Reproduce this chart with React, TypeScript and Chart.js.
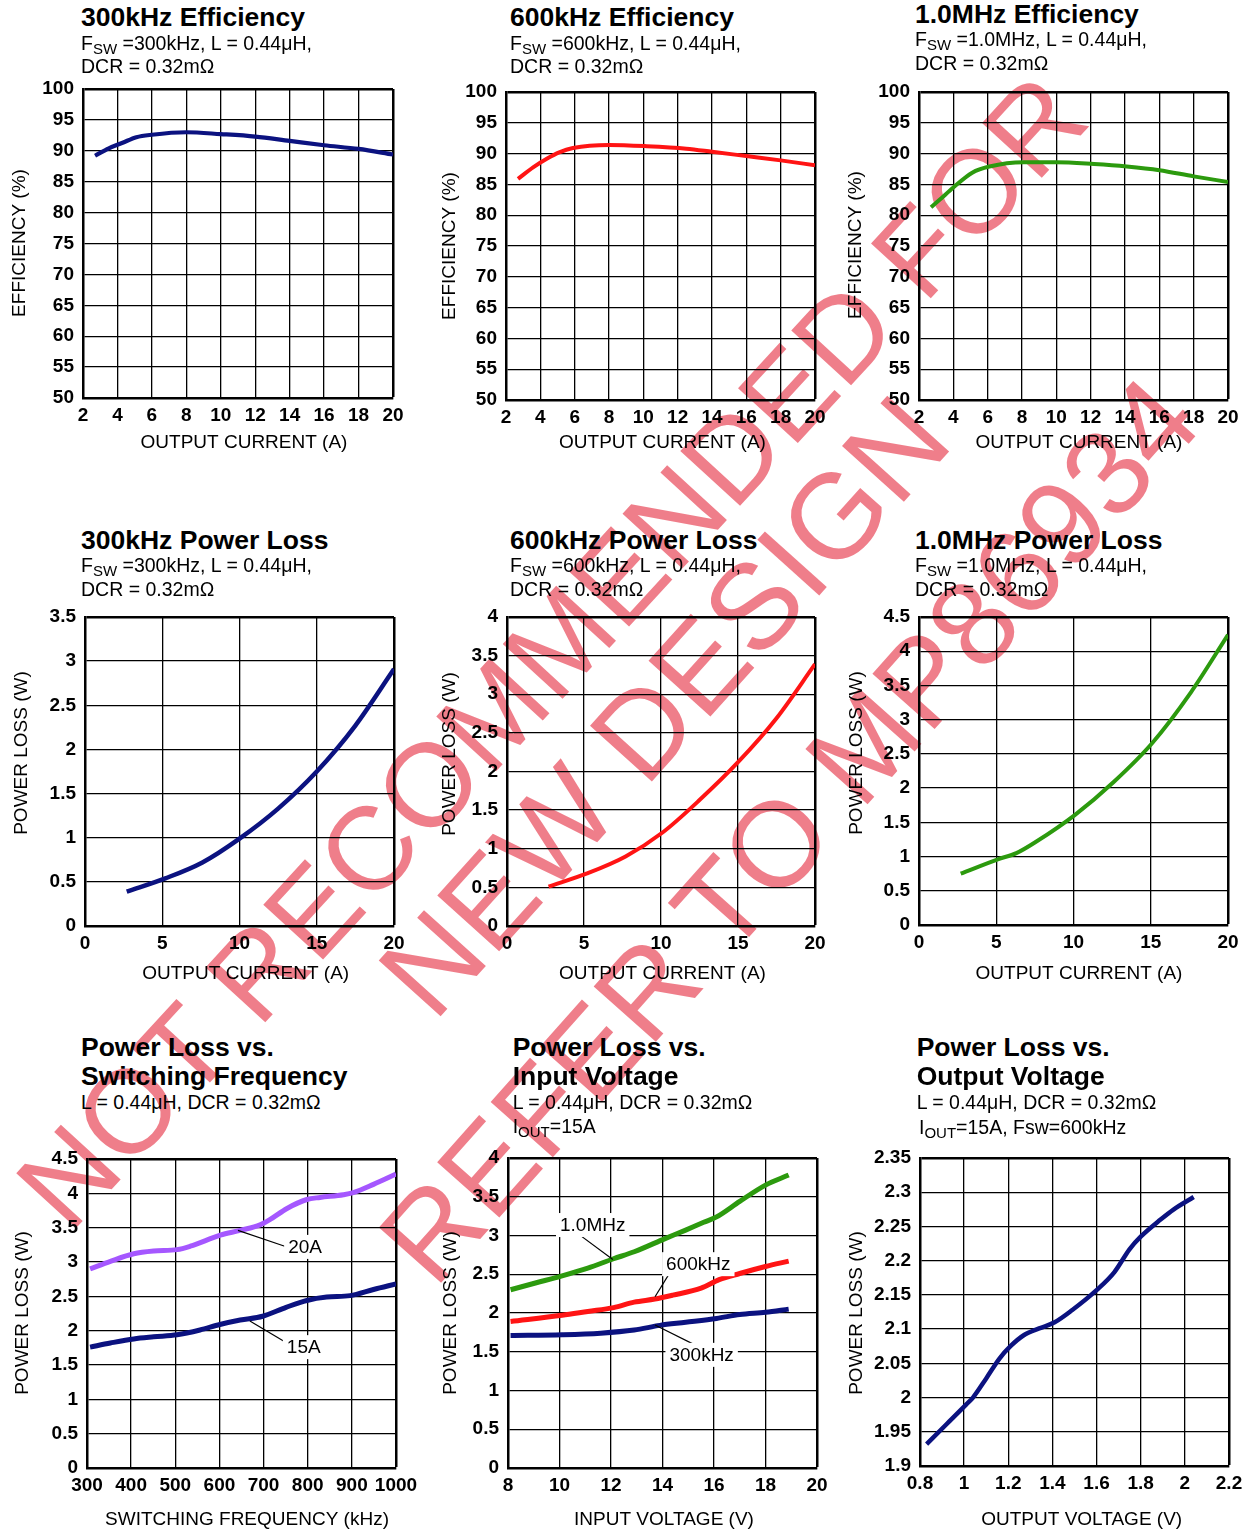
import { useEffect, useRef } from "react";
import type { ReactNode } from "react";
import { Chart, registerables } from "chart.js";

Chart.register(...registerables);

const FONT = "'Liberation Sans', Arial, Helvetica, sans-serif";
Chart.defaults.font.family = FONT;
Chart.defaults.color = "#000";

const NAVY = "#0b1280";
const RED = "#ff1414";
const GREEN = "#2c9a0e";
const PURPLE = "#a557ff";

// ---- data ----
const eff300Current = [2.7, 3.5, 4.3, 5.1, 6, 8, 10, 12, 14, 16, 18, 20];
const eff300 = [89.2, 90.4, 91.3, 92.2, 92.6, 93.0, 92.7, 92.3, 91.6, 90.9, 90.3, 89.4];

const eff600Current = [2.7, 3.6, 4.4, 5.1, 5.9, 8, 10.2, 12.5, 14, 16, 18, 20];
const eff600 = [85.9, 87.8, 89.2, 90.2, 90.9, 91.4, 91.2, 90.8, 90.3, 89.6, 88.9, 88.1];

const eff1mCurrent = [2.7, 3.2, 4, 5.1, 6.1, 8.1, 10, 12.2, 14.1, 16, 18, 20];
const eff1m = [81.3, 82.5, 84.5, 86.9, 87.9, 88.6, 88.6, 88.3, 87.9, 87.3, 86.3, 85.4];

const loss300Current = [2.7, 5.2, 7.6, 10, 12.5, 15, 17.5, 20];
const loss300 = [0.39, 0.54, 0.72, 0.99, 1.33, 1.75, 2.27, 2.91];

const loss600Current = [2.7, 5.2, 7.7, 10.1, 12.5, 15, 17.5, 20];
const loss600 = [0.51, 0.68, 0.9, 1.21, 1.63, 2.12, 2.69, 3.39];

const loss1mCurrent = [2.7, 5.1, 6.3, 7.6, 10.1, 12.6, 15.1, 17.6, 20];
const loss1m = [0.75, 0.96, 1.05, 1.22, 1.61, 2.09, 2.66, 3.4, 4.24];

const fswKHz20A = [307, 353, 406, 451, 504, 534, 602, 647, 692, 715, 753, 798, 828, 881, 903, 949, 1000];
const loss20A = [2.9, 3.01, 3.12, 3.16, 3.18, 3.23, 3.39, 3.46, 3.54, 3.62, 3.78, 3.91, 3.94, 3.98, 4.01, 4.13, 4.28];
const fswKHz15A = [307, 353, 406, 451, 504, 556, 601, 647, 698, 751, 798, 843, 896, 949, 1000];
const loss15A = [1.76, 1.82, 1.88, 1.91, 1.94, 2.01, 2.09, 2.155, 2.21, 2.34, 2.44, 2.49, 2.51, 2.6, 2.68];

const vin1m = [8.1, 9.1, 10.1, 11.1, 12.1, 12.9, 14.1, 14.9, 15.6, 16.1, 17, 18, 18.9];
const lossVin1m = [2.3, 2.39, 2.48, 2.58, 2.7, 2.79, 2.96, 3.07, 3.17, 3.24, 3.44, 3.65, 3.78];
const vin600 = [8.1, 10.1, 11.1, 12.1, 12.9, 13.7, 14.4, 15.5, 16.2, 17, 18, 18.9];
const lossVin600 = [1.89, 1.97, 2.02, 2.07, 2.14, 2.18, 2.23, 2.32, 2.43, 2.51, 2.6, 2.67];
const vin300 = [8.1, 10.1, 11.6, 12.9, 13.9, 14.9, 16.1, 17, 18, 18.9];
const lossVin300 = [1.71, 1.72, 1.74, 1.78, 1.84, 1.88, 1.93, 1.98, 2.01, 2.05];

const vout = [0.83, 0.92, 1.01, 1.04, 1.1, 1.16, 1.21, 1.27, 1.34, 1.41, 1.49, 1.6, 1.68, 1.75, 1.8, 1.89, 1.95, 2.04];
const lossVout = [1.932, 1.961, 1.99, 2.0, 2.028, 2.057, 2.075, 2.091, 2.101, 2.11, 2.128, 2.157, 2.183, 2.217, 2.235, 2.26, 2.275, 2.293];

// axis ranges [min, max, step]
const currentAxis: [number, number, number] = [2, 20, 2];
const currentAxis0: [number, number, number] = [0, 20, 5];
const effAxis: [number, number, number] = [50, 100, 5];

// canvas margins around the plot box
const LEFT = 80;
const TOP = 22;
const RIGHT = 34;
const BOTTOM = 70;
const GRID_W = 1.3;
const FRAME_W = 2.5;

type Series = { x: number[]; y: number[]; color: string; width: number };
type Note = { text: string; at: [number, number]; from: [number, number]; to: [number, number] };
type Line = { left: number; base: number; size: number; bold?: boolean; content: ReactNode };
type PanelCfg = {
  plot: [number, number, number, number];
  xRange: [number, number, number];
  yRange: [number, number, number];
  series: Series[];
  xTitle: string;
  yTitle: string;
  xTitleAt: [number, number];
  yTitleAt: [number, number];
  notes?: Note[];
  text: Line[];
};

const Sub = ({ children }: { children: ReactNode }) => (
  <span style={{ fontSize: 15, verticalAlign: -4 }}>{children}</span>
);

const fmt = (v: number | string) => String(Math.round(Number(v) * 1000) / 1000);

const fswLine = (f: string) => (
  <>
    F<Sub>SW</Sub> ={f}, L = 0.44μH,
  </>
);

const headText = (left: number, b: number, title: string, f: string): Line[] => [
  { left, base: b, size: 26.5, bold: true, content: title },
  { left, base: b + 23.5, size: 19.5, content: fswLine(f) },
  { left, base: b + 47, size: 19.5, content: "DCR = 0.32mΩ" },
];

const panels: PanelCfg[] = [
  {
    plot: [83, 89, 393, 398],
    xRange: currentAxis,
    yRange: effAxis,
    series: [{ x: eff300Current, y: eff300, color: NAVY, width: 4.2 }],
    xTitle: "OUTPUT CURRENT (A)",
    yTitle: "EFFICIENCY (%)",
    xTitleAt: [244, 443],
    yTitleAt: [19.5, 243],
    text: headText(81, 26.7, "300kHz Efficiency", "300kHz"),
  },
  {
    plot: [506, 92, 815, 400],
    xRange: currentAxis,
    yRange: effAxis,
    series: [{ x: eff600Current, y: eff600, color: RED, width: 4 }],
    xTitle: "OUTPUT CURRENT (A)",
    yTitle: "EFFICIENCY (%)",
    xTitleAt: [662.5, 443],
    yTitleAt: [449.5, 246],
    text: headText(510, 26.7, "600kHz Efficiency", "600kHz"),
  },
  {
    plot: [919, 92, 1228, 400],
    xRange: currentAxis,
    yRange: effAxis,
    series: [{ x: eff1mCurrent, y: eff1m, color: GREEN, width: 4 }],
    xTitle: "OUTPUT CURRENT (A)",
    yTitle: "EFFICIENCY (%)",
    xTitleAt: [1079, 443],
    yTitleAt: [856, 245],
    text: headText(915, 23.5, "1.0MHz Efficiency", "1.0MHz"),
  },
  {
    plot: [85, 617, 394, 926],
    xRange: currentAxis0,
    yRange: [0, 3.5, 0.5],
    series: [{ x: loss300Current, y: loss300, color: NAVY, width: 4.5 }],
    xTitle: "OUTPUT CURRENT (A)",
    yTitle: "POWER LOSS (W)",
    xTitleAt: [245.7, 974],
    yTitleAt: [21.5, 753],
    text: headText(81, 549.3, "300kHz Power Loss", "300kHz"),
  },
  {
    plot: [507, 617, 815, 926],
    xRange: currentAxis0,
    yRange: [0, 4, 0.5],
    series: [{ x: loss600Current, y: loss600, color: RED, width: 4 }],
    xTitle: "OUTPUT CURRENT (A)",
    yTitle: "POWER LOSS (W)",
    xTitleAt: [662.5, 974],
    yTitleAt: [450, 754],
    text: headText(510, 549.3, "600kHz Power Loss", "600kHz"),
  },
  {
    plot: [919, 617, 1228, 925],
    xRange: currentAxis0,
    yRange: [0, 4.5, 0.5],
    series: [{ x: loss1mCurrent, y: loss1m, color: GREEN, width: 4 }],
    xTitle: "OUTPUT CURRENT (A)",
    yTitle: "POWER LOSS (W)",
    xTitleAt: [1079, 974],
    yTitleAt: [856.7, 753],
    text: headText(915, 549.3, "1.0MHz Power Loss", "1.0MHz"),
  },
  {
    plot: [87, 1159, 396, 1468],
    xRange: [300, 1000, 100],
    yRange: [0, 4.5, 0.5],
    series: [
      { x: fswKHz20A, y: loss20A, color: PURPLE, width: 5 },
      { x: fswKHz15A, y: loss15A, color: NAVY, width: 5 },
    ],
    xTitle: "SWITCHING FREQUENCY (kHz)",
    yTitle: "POWER LOSS (W)",
    xTitleAt: [247, 1520],
    yTitleAt: [22.5, 1313],
    notes: [
      { text: "20A", at: [794, 3.22], from: [642, 3.46], to: [748, 3.23] },
      { text: "15A", at: [791, 1.76], from: [669, 2.14], to: [748, 1.84] },
    ],
    text: [
      { left: 81, base: 1056, size: 26.5, bold: true, content: "Power Loss vs." },
      { left: 81, base: 1085, size: 26.5, bold: true, content: "Switching Frequency" },
      { left: 81, base: 1109.3, size: 19.5, content: "L = 0.44μH, DCR = 0.32mΩ" },
    ],
  },
  {
    plot: [508, 1158, 817, 1468],
    xRange: [8, 20, 2],
    yRange: [0, 4, 0.5],
    series: [
      { x: vin1m, y: lossVin1m, color: GREEN, width: 5 },
      { x: vin600, y: lossVin600, color: RED, width: 5 },
      { x: vin300, y: lossVin300, color: NAVY, width: 5 },
    ],
    xTitle: "INPUT VOLTAGE (V)",
    yTitle: "POWER LOSS (W)",
    xTitleAt: [664, 1520],
    yTitleAt: [451, 1313],
    notes: [
      { text: "1.0MHz", at: [11.29, 3.135], from: [10.61, 3.05], to: [12.07, 2.69] },
      { text: "600kHz", at: [15.39, 2.63], from: [14.36, 2.56], to: [13.71, 2.21] },
      { text: "300kHz", at: [15.52, 1.46], from: [15.43, 1.56], to: [13.71, 1.845] },
    ],
    text: [
      { left: 512.7, base: 1056, size: 26.5, bold: true, content: "Power Loss vs." },
      { left: 512.7, base: 1085, size: 26.5, bold: true, content: "Input Voltage" },
      { left: 512.7, base: 1109.3, size: 19.5, content: "L = 0.44μH, DCR = 0.32mΩ" },
      {
        left: 512.7,
        base: 1134,
        size: 19.5,
        content: (
          <>
            I<Sub>OUT</Sub>=15A
          </>
        ),
      },
    ],
  },
  {
    plot: [920, 1158, 1229, 1466],
    xRange: [0.8, 2.2, 0.2],
    yRange: [1.9, 2.35, 0.05],
    series: [{ x: vout, y: lossVout, color: NAVY, width: 4.5 }],
    xTitle: "OUTPUT VOLTAGE (V)",
    yTitle: "POWER LOSS (W)",
    xTitleAt: [1081.7, 1520],
    yTitleAt: [856.7, 1313],
    text: [
      { left: 916.7, base: 1056, size: 26.5, bold: true, content: "Power Loss vs." },
      { left: 916.7, base: 1085, size: 26.5, bold: true, content: "Output Voltage" },
      { left: 916.7, base: 1109.3, size: 19.5, content: "L = 0.44μH, DCR = 0.32mΩ" },
      {
        left: 919,
        base: 1135,
        size: 19.5,
        content: (
          <>
            I<Sub>OUT</Sub>=15A, Fsw=600kHz
          </>
        ),
      },
    ],
  },
];

const watermark = [
  { text: "NOT RECOMMENDED FOR", cx: 551, cy: 651, size: 118, angle: -47.4 },
  { text: "NEW DESIGN", cx: 664, cy: 706, size: 121, angle: -48 },
  { text: "REFER TO MP86934", cx: 789, cy: 830, size: 121, angle: -48.3 },
];

function Panel({ cfg }: { cfg: PanelCfg }) {
  const canvasRef = useRef<HTMLCanvasElement | null>(null);
  const [l, t, r, b] = cfg.plot;
  const w = r - l + LEFT + RIGHT;
  const h = b - t + TOP + BOTTOM;

  useEffect(() => {
    if (canvasRef.current == null) return;

    // axis titles and curve labels, positioned off the plot area
    const panelText = {
      id: "panelText",
      afterDatasetsDraw(chart: any) {
        const ctx = chart.ctx;
        const xs = chart.scales.x;
        const ys = chart.scales.y;
        ctx.save();
        ctx.font = `19px ${FONT}`;
        ctx.textAlign = "center";
        ctx.textBaseline = "middle";
        for (const n of cfg.notes ?? []) {
          ctx.strokeStyle = "#000";
          ctx.lineWidth = 1.2;
          ctx.beginPath();
          ctx.moveTo(xs.getPixelForValue(n.from[0]), ys.getPixelForValue(n.from[1]));
          ctx.lineTo(xs.getPixelForValue(n.to[0]), ys.getPixelForValue(n.to[1]));
          ctx.stroke();
          const px = xs.getPixelForValue(n.at[0]);
          const py = ys.getPixelForValue(n.at[1]);
          const tw = ctx.measureText(n.text).width;
          ctx.fillStyle = "#fff";
          ctx.fillRect(px - tw / 2 - 4, py - 12, tw + 8, 24);
          ctx.fillStyle = "#000";
          ctx.fillText(n.text, px, py + 1);
        }
        ctx.restore();
      },
      afterDraw(chart: any) {
        const ctx = chart.ctx;
        const ox = chart.chartArea.left - l;
        const oy = chart.chartArea.top - t;
        ctx.save();
        ctx.font = `19px ${FONT}`;
        ctx.fillStyle = "#000";
        ctx.textAlign = "center";
        ctx.textBaseline = "middle";
        ctx.fillText(cfg.xTitle, cfg.xTitleAt[0] + ox, cfg.xTitleAt[1] + oy);
        ctx.translate(cfg.yTitleAt[0] + ox, cfg.yTitleAt[1] + oy);
        ctx.rotate(-Math.PI / 2);
        ctx.fillText(cfg.yTitle, 0, 0);
        ctx.restore();
      },
    };

    const gridOpts = {
      color: "#000",
      lineWidth: (c: any) => (c.index === c.scale.ticks.length - 1 ? FRAME_W : GRID_W),
      drawTicks: false,
    };
    const tickFont = { family: FONT, size: 19, weight: "bold" as const };

    const chart = new Chart(canvasRef.current, {
      type: "line",
      data: {
        datasets: cfg.series.map((s) => ({
          data: s.x.map((x, i) => ({ x, y: s.y[i] })),
          borderColor: s.color,
          borderWidth: s.width,
          pointRadius: 0,
          fill: false,
          cubicInterpolationMode: "monotone" as const,
          borderJoinStyle: "round" as const,
        })),
      },
      options: {
        animation: false,
        responsive: false,
        events: [],
        layout: { padding: { left: 0, top: TOP, right: RIGHT, bottom: 0 } },
        plugins: { legend: { display: false }, tooltip: { enabled: false } },
        scales: {
          x: {
            type: "linear",
            min: cfg.xRange[0],
            max: cfg.xRange[1],
            ticks: {
              stepSize: cfg.xRange[2],
              autoSkip: false,
              maxRotation: 0,
              padding: 6,
              color: "#000",
              font: tickFont,
              callback: fmt,
            },
            grid: gridOpts,
            border: { color: "#000", width: FRAME_W },
            afterFit: (s: any) => {
              s.height = BOTTOM;
            },
          },
          y: {
            type: "linear",
            min: cfg.yRange[0],
            max: cfg.yRange[1],
            ticks: {
              stepSize: cfg.yRange[2],
              autoSkip: false,
              padding: 9,
              color: "#000",
              font: tickFont,
              callback: fmt,
            },
            grid: gridOpts,
            border: { color: "#000", width: FRAME_W },
            afterFit: (s: any) => {
              s.width = LEFT;
            },
          },
        },
      },
      plugins: [panelText],
    });

    return () => {
      chart.destroy();
    };
  }, [cfg]);

  return (
    <>
      <canvas
        ref={canvasRef}
        width={w}
        height={h}
        style={{ position: "absolute", left: l - LEFT, top: t - TOP, width: w, height: h }}
      ></canvas>
      {cfg.text.map((ln, i) => (
        <div
          key={i}
          style={{
            position: "absolute",
            left: ln.left,
            top: ln.base - 0.8465 * ln.size,
            fontSize: ln.size,
            lineHeight: `${ln.size}px`,
            fontWeight: ln.bold ? "bold" : "normal",
            whiteSpace: "nowrap",
            color: "#000",
          }}
        >
          {ln.content}
        </div>
      ))}
    </>
  );
}

export default function App() {
  return (
    <div
      style={{
        position: "absolute",
        left: 0,
        top: 0,
        width: 1247,
        height: 1532,
        background: "#fff",
        overflow: "hidden",
        fontFamily: FONT,
      }}
    >
      {watermark.map((m, i) => (
        <div
          key={i}
          style={{
            position: "absolute",
            left: m.cx,
            top: m.cy,
            transform: `translate(-50%, -50%) rotate(${m.angle}deg)`,
            fontSize: m.size,
            lineHeight: 1,
            whiteSpace: "nowrap",
            color: "rgba(228, 40, 60, 0.6)",
          }}
        >
          {m.text}
        </div>
      ))}
      {panels.map((p, i) => (
        <Panel key={i} cfg={p} />
      ))}
    </div>
  );
}
